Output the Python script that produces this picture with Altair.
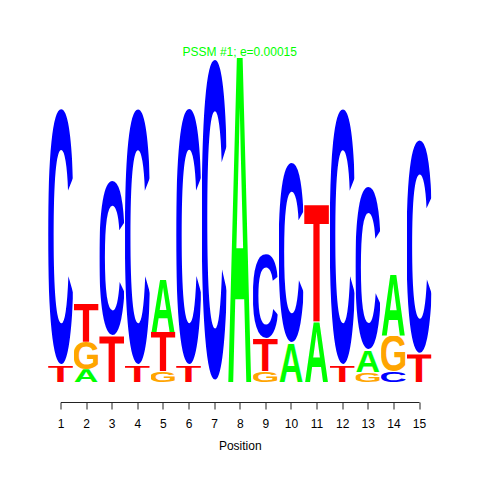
import base64
import altair as alt
import pandas as pd

positions = list(range(1, 16))
# letters of each column, bottom to top
col_letters = [
    ["T", "C"], ["A", "G", "T"], ["T", "C"], ["T", "C"], ["G", "T", "A"],
    ["T", "C"], ["C"], ["A"], ["G", "T", "C"], ["A", "C"],
    ["A", "T"], ["T", "C"], ["G", "A", "C"], ["C", "G", "A"], ["T", "C"],
]
# height of each letter (bits), bottom to top
col_bits = [
    [0.099, 1.595], [0.078, 0.170, 0.237], [0.281, 0.961], [0.100, 1.593], [0.067, 0.242, 0.322],
    [0.099, 1.597], [2.0], [2.0], [0.065, 0.200, 0.524], [0.234, 1.122],
    [0.372, 0.721], [0.100, 1.593], [0.060, 0.134, 1.010], [0.062, 0.222, 0.379], [0.170, 1.330],
]
letter_colors = {"A": "#00FF00", "C": "#0000FF", "G": "#FFA500", "T": "#FF0000"}
title_text = "PSSM #1; e=0.00015"
x_title = "Position"

FONT = "Liberation Sans"
# glyph extents in a 100px bold Liberation Sans text (x0, x1, y0, y1)
glyph_box = {
    "A": (0.0, 72.2, 31.2, 100.0),
    "C": (4.5, 68.3, 29.7, 101.5),
    "G": (4.6, 72.8, 29.7, 101.5),
    "T": (2.2, 59.0, 31.2, 100.0),
}


def glyph_url(letter):
    x0, x1, y0, y1 = glyph_box[letter]
    svg = (
        f'<svg xmlns="http://www.w3.org/2000/svg" width="100" height="100" '
        f'viewBox="{x0} {y0} {x1 - x0} {y1 - y0}" preserveAspectRatio="none">'
        f'<text x="0" y="100" font-family="{FONT}" font-weight="bold" font-size="100" '
        f'fill="{letter_colors[letter]}">{letter}</text></svg>'
    )
    return "data:image/svg+xml;base64," + base64.b64encode(svg.encode()).decode()


rows = []
for pos, letters, bits in zip(positions, col_letters, col_bits):
    base = 0.0
    for L, b in zip(letters, bits):
        rows.append({"pos": pos, "letter": L, "y0": base, "y1": base + b,
                     "url": glyph_url(L)})
        base += b
df = pd.DataFrame(rows)

xscale = alt.Scale(domain=[positions[0], positions[-1]], nice=False, zero=False)
yscale = alt.Scale(domain=[0, 2], nice=False, zero=False)

letters_layer = alt.Chart(df).transform_calculate(
    xa="datum.pos - 0.48", xb="datum.pos + 0.48"
).mark_image(aspect=False, clip=False).encode(
    x=alt.X("xa:Q", scale=xscale,
            axis=alt.Axis(values=positions, format="d", title=x_title, offset=20,
                          tickSize=7, tickColor="#222222", domainColor="#222222",
                          tickWidth=1, domainWidth=1, grid=False,
                          labelFont=FONT, labelFontSize=12, labelColor="#000000",
                          labelBaseline="alphabetic", labelPadding=18.5,
                          labelFlush=False, labelOverlap=False,
                          titleFont=FONT, titleFontSize=12, titleFontWeight="normal",
                          titleColor="#000000", titleBaseline="alphabetic", titleY=47)),
    x2="xb:Q",
    y=alt.Y("y0:Q", scale=yscale, axis=None),
    y2="y1:Q",
    url="url:N",
)

chart = letters_layer.properties(
    width=358.5,
    height=324,
    title=alt.Title(title_text, color="#00FF00", font=FONT, fontSize=12,
                    fontWeight="normal", anchor="middle", baseline="alphabetic", offset=-10),
    autosize=alt.AutoSizeParams(type="none"),
    padding={"left": 52.5, "top": 50, "right": 53, "bottom": 90},
).configure_view(stroke=None)

chart.save("out.html", embed_options={"renderer": "svg", "actions": False})
